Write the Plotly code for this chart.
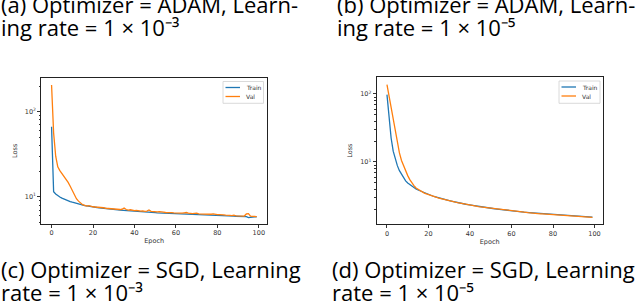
import plotly.graph_objects as go

epochs = list(range(100))

# (a) ADAM, lr 1e-3
adam3_train = [66.7, 11.5, 10.8, 10.3, 9.95, 9.65, 9.4, 9.15, 8.95, 8.8,
               8.65, 8.5, 8.35, 8.25, 8.1, 8.0, 7.9, 7.85, 7.75, 7.65,
               7.6, 7.55, 7.5, 7.45, 7.42, 7.35, 7.3, 7.25, 7.2, 7.17,
               7.1, 7.08, 7.05, 7.0, 6.98, 6.95, 6.9, 6.88, 6.85, 6.8,
               6.78, 6.75, 6.72, 6.7, 6.68, 6.65, 6.62, 6.6, 6.58, 6.55,
               6.53, 6.5, 6.48, 6.46, 6.44, 6.42, 6.4, 6.38, 6.36, 6.34,
               6.32, 6.3, 6.28, 6.27, 6.25, 6.24, 6.22, 6.2, 6.19, 6.18,
               6.16, 6.15, 6.13, 6.12, 6.1, 6.09, 6.08, 6.06, 6.05, 6.04,
               6.02, 6.01, 6.0, 5.99, 5.98, 5.97, 5.96, 5.94, 5.93, 5.92,
               5.91, 5.9, 5.89, 5.88, 5.85, 5.7, 5.78, 5.85, 5.84, 5.83]
adam3_val = [206, 56, 30, 22.5, 20.3, 18.9, 17.4, 16.2, 14.8, 13.3,
             11.8, 10.5, 9.5, 8.9, 8.4, 8.1, 7.95, 7.8, 7.9, 7.7,
             7.65, 7.6, 7.55, 7.5, 7.6, 7.45, 7.35, 7.3, 7.25, 7.3,
             7.2, 7.15, 7.2, 7.1, 7.15, 7.4, 7.1, 7.0, 7.05, 6.95,
             6.9, 6.95, 6.85, 6.8, 6.85, 6.75, 6.8, 7.0, 6.75, 6.7,
             6.72, 6.65, 6.7, 6.6, 6.62, 6.55, 6.58, 6.5, 6.52, 6.48,
             6.45, 6.5, 6.42, 6.45, 6.5, 6.55, 6.45, 6.38, 6.35, 6.4,
             6.45, 6.3, 6.28, 6.32, 6.25, 6.22, 6.2, 6.25, 6.3, 6.22,
             6.18, 6.2, 6.12, 6.15, 6.1, 6.12, 6.05, 6.02, 6.08, 5.98,
             6.0, 5.96, 5.98, 5.95, 6.3, 6.35, 5.95, 5.9, 5.88, 5.87]

# (b) ADAM, lr 1e-5
adam5_train = [97.8, 44.4, 22.5, 14.4, 10.8, 8.83, 7.46, 6.52, 5.75, 5.26,
               4.91, 4.64, 4.39, 4.2, 4.01, 3.87, 3.75, 3.62, 3.5, 3.42,
               3.31, 3.23, 3.16, 3.09, 3.02, 2.96, 2.91, 2.85, 2.8, 2.75,
               2.7, 2.66, 2.61, 2.57, 2.53, 2.49, 2.46, 2.42, 2.39, 2.36,
               2.33, 2.3, 2.27, 2.25, 2.22, 2.2, 2.17, 2.15, 2.13, 2.11,
               2.09, 2.07, 2.05, 2.03, 2.01, 1.99, 1.98, 1.96, 1.94, 1.93,
               1.91, 1.9, 1.88, 1.87, 1.86, 1.84, 1.83, 1.82, 1.81, 1.8,
               1.78, 1.77, 1.76, 1.75, 1.74, 1.73, 1.72, 1.71, 1.7, 1.69,
               1.69, 1.68, 1.67, 1.66, 1.65, 1.65, 1.64, 1.63, 1.62, 1.62,
               1.61, 1.6, 1.6, 1.59, 1.58, 1.58, 1.57, 1.56, 1.56, 1.55]
adam5_val = [137, 92.4, 62.2, 42.0, 28.6, 19.0, 13.6, 10.5, 8.64, 7.29,
             6.3, 5.5, 4.91, 4.49, 4.15, 3.95, 3.75, 3.6, 3.48, 3.4,
             3.3, 3.22, 3.15, 3.08, 3.01, 2.95, 2.89, 2.84, 2.79, 2.74,
             2.69, 2.65, 2.6, 2.56, 2.52, 2.48, 2.45, 2.41, 2.38, 2.35,
             2.32, 2.29, 2.26, 2.24, 2.21, 2.19, 2.16, 2.14, 2.12, 2.1,
             2.08, 2.06, 2.04, 2.02, 2.0, 1.98, 1.97, 1.95, 1.93, 1.92,
             1.9, 1.89, 1.87, 1.86, 1.85, 1.83, 1.82, 1.81, 1.8, 1.79,
             1.77, 1.76, 1.75, 1.74, 1.73, 1.72, 1.71, 1.7, 1.69, 1.68,
             1.68, 1.67, 1.66, 1.65, 1.64, 1.64, 1.63, 1.62, 1.61, 1.61,
             1.6, 1.59, 1.59, 1.58, 1.57, 1.57, 1.56, 1.55, 1.54, 1.53]

x_ticks = [0, 20, 40, 60, 80, 100]
y_major = [10, 100]
y_major_text = ["10<sup>1</sup>", "10<sup>2</sup>"]
y_minor = [2, 3, 4, 5, 6, 7, 8, 9, 20, 30, 40, 50, 60, 70, 80, 90, 200]
series_names = ["Train", "Val"]
colors = ["#1f77b4", "#ff7f0e"]

captions = [
    ("(a) Optimizer = ADAM, Learn-", 0, 11),
    ("ing rate = 1 × 10⁻³", 0, 34),
    ("(b) Optimizer = ADAM, Learn-", 336, 11),
    ("ing rate = 1 × 10⁻⁵", 336, 34),
    ("(c) Optimizer = SGD, Learning", 0, 276),
    ("rate = 1 × 10⁻³", 0, 299),
    ("(d) Optimizer = SGD, Learning", 331, 276),
    ("rate = 1 × 10⁻⁵", 331, 299),
]

W, H = 640, 301
def px(x):
    return x / W
def py(y):
    return (H - y) / H

fig = go.Figure()
panels = [
    dict(train=adam3_train, val=adam3_val, xa="x", ya="y",
         box=(41.3, 78, 267, 223.5), yr=(0.687, 2.396),
         legend=(223, 81.5, 263.5, 103.3)),
    dict(train=adam5_train, val=adam5_val, xa="x2", ya="y2",
         box=(376.7, 77.3, 602.7, 224), yr=(0.088, 2.245),
         legend=(559, 81, 600, 103.3)),
]

tickfont = dict(family="DejaVu Sans", size=6.5, color="#333")
for i, p in enumerate(panels):
    for name, vals, col in zip(series_names, [p["train"], p["val"]], colors):
        fig.add_trace(go.Scatter(x=epochs, y=vals, mode="lines", name=name,
                                 line=dict(color=col, width=1.3),
                                 xaxis=p["xa"], yaxis=p["ya"], showlegend=False))
    x0, y0, x1, y1 = p["box"]
    sfx = "" if i == 0 else str(i + 1)
    fig.update_layout(**{
        "xaxis" + sfx: dict(domain=[px(x0), px(x1)], range=[-4.95, 103.95],
                            anchor="y" + sfx, tickvals=x_ticks, ticks="outside",
                            ticklen=3, tickwidth=0.8, tickcolor="#333",
                            showline=True, mirror=True, linecolor="#222", linewidth=1,
                            showgrid=False, zeroline=False, tickfont=tickfont,
                            title=dict(text="Epoch", font=tickfont, standoff=2)),
        "yaxis" + sfx: dict(domain=[py(y1), py(y0)], type="log", range=list(p["yr"]),
                            anchor="x" + sfx, tickvals=y_major, ticktext=y_major_text,
                            ticks="outside", ticklen=3, tickwidth=0.8, tickcolor="#333",
                            minor=dict(tickvals=y_minor, ticks="outside", ticklen=1.6,
                                       tickwidth=0.6, tickcolor="#333"),
                            showline=True, mirror=True, linecolor="#222", linewidth=1,
                            showgrid=False, zeroline=False, tickfont=tickfont,
                            title=dict(text="Loss", font=tickfont, standoff=6)),
    })
    lx0, ly0, lx1, ly1 = p["legend"]
    fig.add_shape(type="rect", xref="paper", yref="paper",
                  x0=px(lx0), x1=px(lx1), y0=py(ly1), y1=py(ly0),
                  line=dict(color="#d0d0d0", width=0.8), fillcolor="white")
    for k, (name, col) in enumerate(zip(series_names, colors)):
        yy = ly0 + 6 + k * 9
        fig.add_shape(type="line", xref="paper", yref="paper",
                      x0=px(lx0 + 2.5), x1=px(lx0 + 17), y0=py(yy), y1=py(yy),
                      line=dict(color=col, width=1.3))
        fig.add_annotation(xref="paper", yref="paper", x=px(lx0 + 21), y=py(yy),
                           text=name, showarrow=False, xanchor="left", yanchor="middle",
                           font=dict(family="DejaVu Sans", size=6, color="#333"))

for text, x, base in captions:
    fig.add_annotation(xref="paper", yref="paper", x=px(x), y=py(base - 7),
                       text=text, showarrow=False, xanchor="left", yanchor="middle",
                       xshift=-1, font=dict(family="Open Sans", size=22, color="black"))

fig.update_layout(width=W, height=H, margin=dict(l=0, r=0, t=0, b=0),
                  paper_bgcolor="white", plot_bgcolor="white", showlegend=False)

fig.write_html("out.html", config={"displayModeBar": False},
               post_script="document.body.style.margin='0';document.body.style.overflow='hidden';")
